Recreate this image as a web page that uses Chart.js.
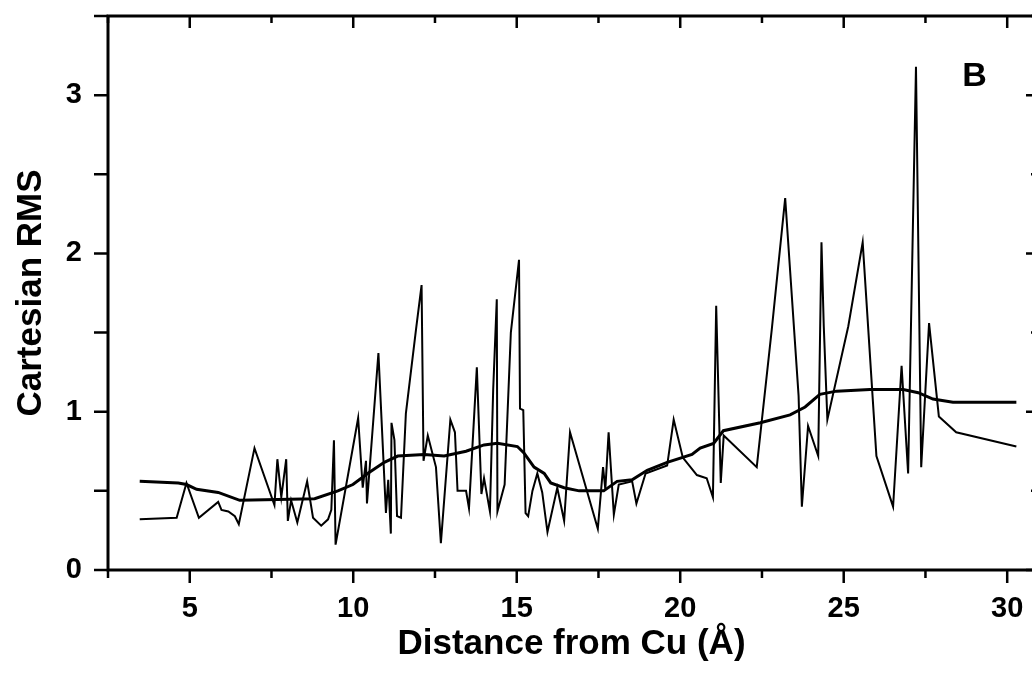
<!DOCTYPE html>
<html>
<head>
<meta charset="utf-8">
<script src="https://cdn.jsdelivr.net/npm/chart.js@4"></script>
<style>
  html, body { margin: 0; padding: 0; background: #fff; overflow: hidden; }
  #wrap { width: 1040px; height: 687px; }
</style>
</head>
<body>
<div id="wrap"><canvas id="grafico" width="1040" height="687"></canvas></div>
<script>
// Datos (distancia en Å, RMS cartesiano)
const distRaw = [3.47, 4.60, 4.90, 5.28, 5.87, 5.97, 6.18, 6.38, 6.50, 6.98, 7.59, 7.68, 7.80, 7.95, 8.00, 8.10, 8.29, 8.59, 8.77, 9.02,
  9.23, 9.33, 9.41, 9.46, 10.15, 10.29, 10.39, 10.42, 10.77, 11.00, 11.07, 11.15, 11.17, 11.26, 11.34, 11.46, 11.61, 11.92, 12.09, 12.15,
  12.28, 12.53, 12.68, 12.97, 13.11, 13.19, 13.45, 13.54, 13.78, 13.92, 14.00, 14.18, 14.28, 14.39, 14.41, 14.63, 14.82, 15.07, 15.10, 15.20,
  15.27, 15.35, 15.48, 15.63, 15.78, 15.94, 16.24, 16.45, 16.63, 17.48, 17.64, 17.71, 17.81, 17.97, 18.12, 18.53, 18.66, 18.94, 19.60, 19.80,
  20.08, 20.51, 20.81, 21.00, 21.10, 21.24, 21.33, 22.34, 22.80, 23.21, 23.62, 23.72, 23.91, 24.22, 24.32, 24.39, 24.50, 25.14, 25.58, 26.00,
  26.51, 26.77, 26.97, 27.21, 27.37, 27.61, 27.91, 28.44, 30.28];
const rmsRaw = [0.32, 0.33, 0.55, 0.33, 0.43, 0.38, 0.37, 0.34, 0.29, 0.77, 0.41, 0.70, 0.46, 0.70, 0.31, 0.44, 0.30, 0.56, 0.33, 0.28,
  0.32, 0.38, 0.82, 0.16, 0.96, 0.52, 0.69, 0.42, 1.37, 0.36, 0.57, 0.23, 0.93, 0.82, 0.34, 0.33, 0.99, 1.52, 1.80, 0.69,
  0.85, 0.65, 0.17, 0.95, 0.87, 0.50, 0.50, 0.39, 1.28, 0.48, 0.58, 0.37, 1.14, 1.71, 0.37, 0.54, 1.50, 1.96, 1.02, 1.01,
  0.36, 0.34, 0.50, 0.61, 0.49, 0.24, 0.52, 0.31, 0.87, 0.26, 0.65, 0.51, 0.87, 0.35, 0.54, 0.56, 0.42, 0.61, 0.66, 0.95,
  0.71, 0.60, 0.58, 0.46, 1.67, 0.55, 0.85, 0.65, 1.52, 2.35, 1.10, 0.40, 0.91, 0.72, 2.07, 1.54, 0.95, 1.54, 2.07, 0.72,
  0.40, 1.29, 0.61, 3.18, 0.65, 1.56, 0.97, 0.87, 0.78];

const distMedia = [3.47, 4.65, 4.90, 5.21, 5.87, 6.53, 8.82, 9.53, 9.99, 10.44, 10.95, 11.36, 12.17, 12.78, 13.45, 14.00, 14.41, 15.02, 15.22, 15.53,
  15.84, 16.04, 16.45, 16.91, 17.66, 18.07, 18.53, 18.99, 19.60, 20.36, 20.61, 21.02, 21.32, 22.45, 23.36, 23.82, 24.27, 24.78, 25.80, 26.82,
  27.28, 27.73, 28.34, 30.28];
const rmsMedia = [0.56, 0.55, 0.54, 0.51, 0.49, 0.44, 0.45, 0.50, 0.54, 0.61, 0.68, 0.72, 0.73, 0.72, 0.75, 0.79, 0.80, 0.78, 0.74, 0.65,
  0.61, 0.55, 0.52, 0.50, 0.50, 0.56, 0.57, 0.63, 0.68, 0.73, 0.77, 0.80, 0.88, 0.93, 0.98, 1.03, 1.11, 1.13, 1.14, 1.14,
  1.12, 1.08, 1.06, 1.06];

// Marcas de los ejes
const marcasX = [2.5, 5, 7.5, 10, 12.5, 15, 17.5, 20, 22.5, 25, 27.5, 30];
const etiquetasX = [5, 10, 15, 20, 25, 30];
const marcasY = [0, 0.5, 1, 1.5, 2, 2.5, 3, 3.5];
const etiquetasY = [0, 1, 2, 3];

const panelLabel = 'B';
const tituloX = 'Distance from Cu (Å)';
const tituloY = 'Cartesian RMS';

const fuente = "'Liberation Sans', Arial, sans-serif";

// Marco, marcas de los ejes y la letra del panel
const marcoPlugin = {
  id: 'marco',
  afterDraw(chart) {
    const ctx = chart.ctx;
    const { left, right, top, bottom } = chart.chartArea;
    const xs = chart.scales.x;
    const ys = chart.scales.y;
    ctx.save();
    ctx.strokeStyle = '#000';
    ctx.lineWidth = 3;
    ctx.strokeRect(left, top, right - left, bottom - top);

    ctx.lineWidth = 2.5;
    ctx.beginPath();
    marcasX.forEach(v => {
      const px = xs.getPixelForValue(v);
      const mayor = etiquetasX.includes(v);
      ctx.moveTo(px, bottom); ctx.lineTo(px, bottom + (mayor ? 13 : 8));
      ctx.moveTo(px, top); ctx.lineTo(px, top + (mayor ? 12 : 7));
    });
    marcasY.forEach(v => {
      const py = ys.getPixelForValue(v);
      const entero = etiquetasY.includes(v);
      ctx.moveTo(left - 14, py); ctx.lineTo(left, py);
      ctx.moveTo(right, py); ctx.lineTo(right - (entero ? 9 : 4), py);
    });
    ctx.stroke();

    ctx.fillStyle = '#000';
    ctx.font = 'bold 34px ' + fuente;
    ctx.textAlign = 'center';
    ctx.textBaseline = 'middle';
    ctx.fillText(panelLabel, xs.getPixelForValue(29.0), ys.getPixelForValue(3.12));
    ctx.restore();
  }
};

// Quita el relleno automático que Chart.js añade para las etiquetas extremas
function sinRelleno(scale) {
  scale.paddingTop = 0;
  scale.paddingBottom = 0;
  scale.paddingLeft = 0;
  scale.paddingRight = 0;
}

const ctx = document.getElementById('grafico').getContext('2d');
new Chart(ctx, {
  type: 'scatter',
  data: {
    datasets: [
      {
        label: 'RMS',
        data: distRaw.map((d, i) => ({ x: d, y: rmsRaw[i] })),
        showLine: true,
        borderColor: '#000',
        borderWidth: 2,
        pointRadius: 0,
        tension: 0
      },
      {
        label: 'Media',
        data: distMedia.map((d, i) => ({ x: d, y: rmsMedia[i] })),
        showLine: true,
        borderColor: '#000',
        borderWidth: 3,
        pointRadius: 0,
        tension: 0
      }
    ]
  },
  options: {
    responsive: false,
    animation: false,
    devicePixelRatio: 1,
    layout: { padding: { top: 16, right: 5, left: 0, bottom: 0 } },
    plugins: { legend: { display: false }, tooltip: { enabled: false } },
    scales: {
      x: {
        type: 'linear',
        min: 2.5,
        max: 30.85,
        grid: { display: false, drawTicks: false },
        border: { display: false },
        afterBuildTicks(scale) { scale.ticks = etiquetasX.map(v => ({ value: v })); },
        ticks: {
          autoSkip: false,
          maxRotation: 0,
          padding: 22,
          color: '#000',
          font: { family: fuente, size: 29, weight: 'bold' },
          callback: v => String(v)
        },
        title: {
          display: true,
          text: tituloX,
          color: '#000',
          font: { family: fuente, size: 35, weight: 'bold' },
          padding: { top: 0, bottom: 22 }
        },
        afterFit(scale) { scale.height = 117; sinRelleno(scale); }
      },
      y: {
        min: 0,
        max: 3.5,
        grid: { display: false, drawTicks: false },
        border: { display: false },
        afterBuildTicks(scale) { scale.ticks = etiquetasY.map(v => ({ value: v })); },
        ticks: {
          autoSkip: false,
          padding: 26,
          color: '#000',
          font: { family: fuente, size: 29, weight: 'bold' },
          callback: v => String(v)
        },
        title: {
          display: true,
          text: tituloY,
          color: '#000',
          font: { family: fuente, size: 35, weight: 'bold' },
          padding: { top: 10, bottom: 0 }
        },
        afterFit(scale) { scale.width = 108; sinRelleno(scale); }
      }
    }
  },
  plugins: [marcoPlugin]
});
</script>
</body>
</html>
